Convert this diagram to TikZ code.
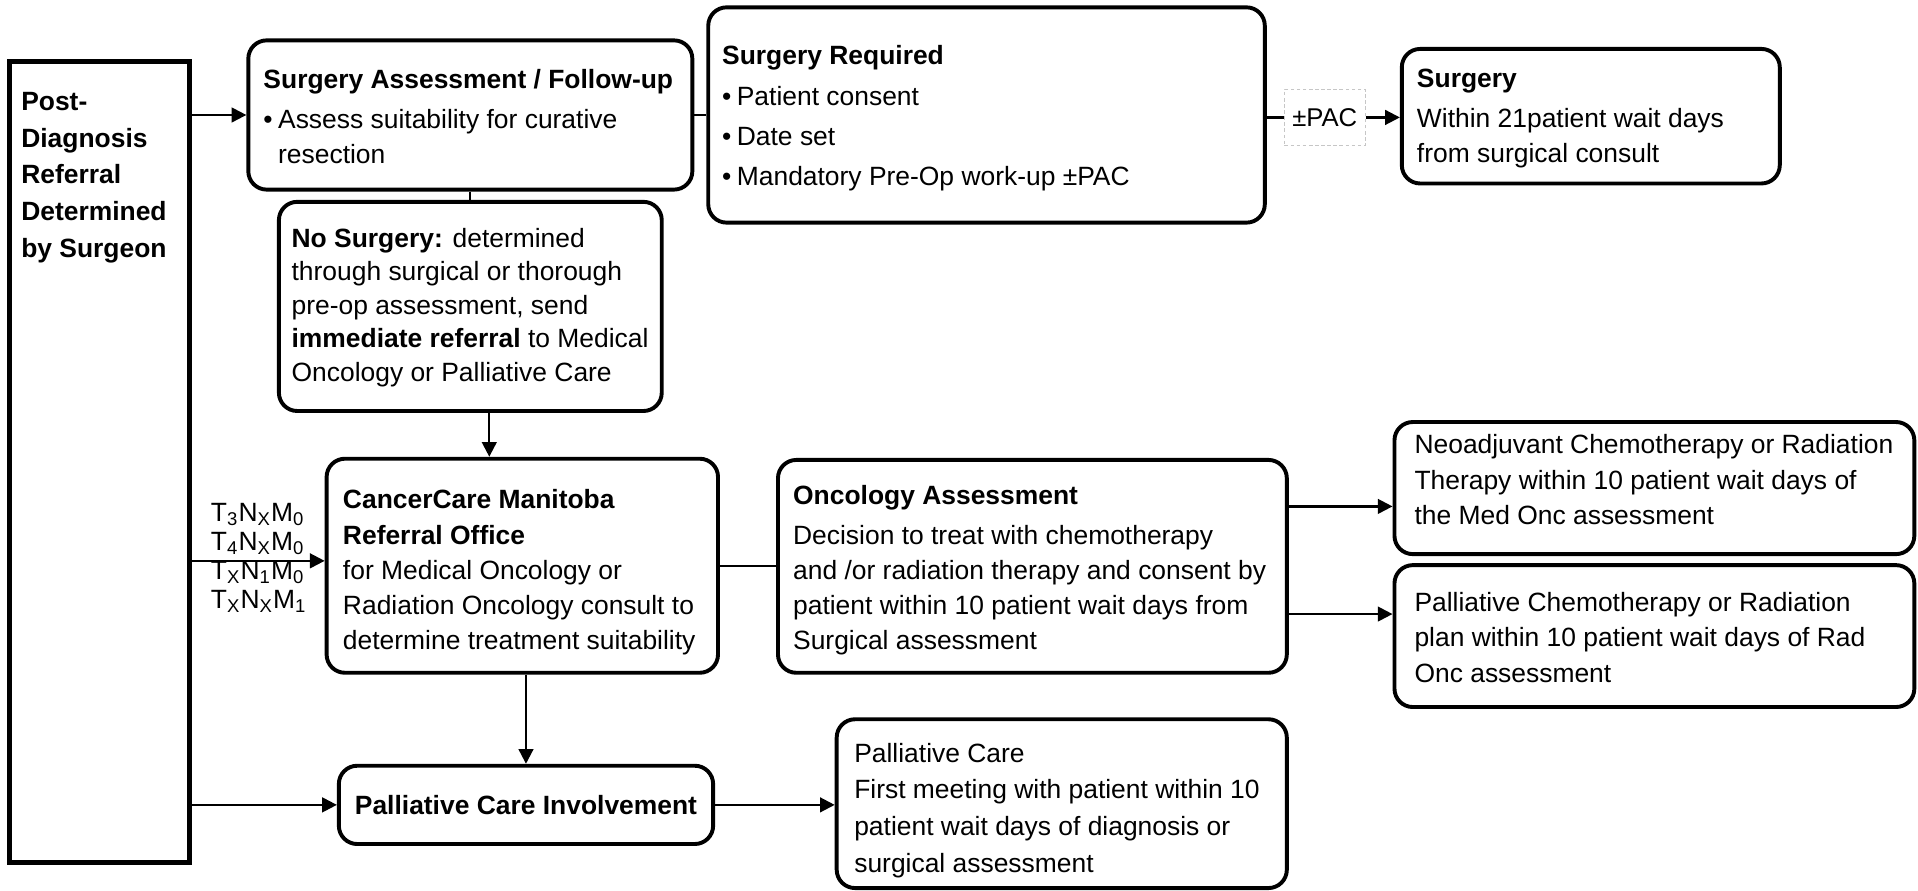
\documentclass[tikz,border=0pt]{standalone}
\usepackage{fontspec}
\setmainfont{Liberation Sans}
\usetikzlibrary{fit,arrows.meta}
\newcommand\bul{\makebox[6pt][l]{\textbullet}}
\newcommand\ind{\hspace*{6pt}}
\begin{document}
\begin{tikzpicture}[x=0.5pt,y=-0.5pt,
  box/.style={draw, line width=1.6pt, rounded corners=7.5pt, inner sep=0pt},
  sqbox/.style={draw, line width=2pt, inner sep=0pt},
  pacbox/.style={draw=gray!45, dashed, dash pattern=on 1.5pt off 1pt, line width=0.4pt, inner sep=0pt},
  txt/.style={anchor=north west, inner sep=0pt, align=left, font=\fontsize{10.8}{14.4}\selectfont},
  arr/.style={line width=0.9pt, -{Triangle[length=6pt,width=6pt]}},
  ln/.style={line width=0.9pt}]
\useasboundingbox (0,0) rectangle (1568,728);
% boxes
\node[sqbox, fit={(8,50) (155,705)}] (L) {};
\node[box, fit={(203,33) (566,155)}] (SA) {};
\node[box, fit={(579,6) (1034,182)}] (SR) {};
\node[pacbox, fit={(1050,73) (1116,119)}] (PAC) {};
\node[box, fit={(1146,40) (1455,150)}] (SU) {};
\node[box, fit={(228,165) (541,336)}] (NS) {};
\node[box, fit={(267,375) (587,550)}] (CC) {};
\node[box, fit={(636,376) (1052,550)}] (OA) {};
\node[box, fit={(1140,345) (1565,453)}] (NEO) {};
\node[box, fit={(1140,462) (1565,578)}] (PCR) {};
\node[box, fit={(277,626) (583,690)}] (PCI) {};
\node[box, fit={(684,588) (1052,726)}] (PC) {};
% texts
\node[txt, font=\fontsize{10.8}{15}\selectfont\bfseries] (Lt) at (17,75) {Post-\\Diagnosis\\Referral\\Determined\\by Surgeon};
\node[txt] (SAt) at (215,56) {\textbf{Surgery Assessment / Follow-up}\\[2pt]\bul Assess suitability for curative\\\ind resection};
\node[txt] (SRt) at (590,37) {\textbf{Surgery Required}\\[2pt]\bul Patient consent\\[2pt]\bul Date set\\[2pt]\bul Mandatory Pre-Op work-up \textpm PAC};
\node[font=\fontsize{10.5}{12}\selectfont, inner sep=0pt] (PACt) at (PAC.center) {\textpm PAC};
\node[txt] (SUt) at (1158,56) {\textbf{Surgery}\\[2pt]Within 21patient wait days\\from surgical consult};
\node[txt, font=\fontsize{10.8}{13.7}\selectfont] (NSt) at (238,186) {\textbf{No Surgery:} determined\\through surgical or thorough\\pre-op assessment, send\\\textbf{immediate referral} to Medical\\Oncology or Palliative Care};
\node[txt] (CCt) at (280,400) {\textbf{CancerCare Manitoba}\\\textbf{Referral Office}\\for Medical Oncology or\\Radiation Oncology consult to\\determine treatment suitability};
\node[txt] (OAt) at (648,396) {\textbf{Oncology Assessment}\\[2pt]Decision to treat with chemotherapy\\and /or radiation therapy and consent by\\patient within 10 patient wait days from\\Surgical assessment};
\node[txt] (NEOt) at (1156,355) {Neoadjuvant Chemotherapy or Radiation\\Therapy within 10 patient wait days of\\the Med Onc assessment};
\node[txt] (PCRt) at (1156,484) {Palliative Chemotherapy or Radiation\\plan within 10 patient wait days of Rad\\Onc assessment};
\node[font=\fontsize{10.8}{14.4}\selectfont\bfseries, inner sep=0pt] (PCIt) at (PCI.center) {Palliative Care Involvement};
\node[txt, font=\fontsize{10.8}{15}\selectfont] (PCt) at (698,607) {Palliative Care\\First meeting with patient within 10\\patient wait days of diagnosis or\\surgical assessment};
\node[txt, font=\fontsize{10.8}{11.8}\selectfont] (TNM) at (172,411) {T\textsubscript{3}N\textsubscript{X}M\textsubscript{0}\\T\textsubscript{4}N\textsubscript{X}M\textsubscript{0}\\T\textsubscript{X}N\textsubscript{1}M\textsubscript{0}\\T\textsubscript{X}N\textsubscript{X}M\textsubscript{1}};
% connectors
\draw[arr] (SA.west -| L.east) -- (SA.west);
\draw[ln] (SA.east) -- (SA.east -| SR.west);
\draw[ln] (PAC.west -| SR.east) -- (PAC.west);
\draw[arr] (PAC.east) -- (PAC.east -| SU.west);
\draw[ln] (SA.south) -- (NS.north);
\draw[arr] ([xshift=7.75pt]NS.south) -- ([xshift=7.75pt]NS.south |- CC.north);
\draw[arr] ([yshift=2pt]CC.west -| L.east) -- ([yshift=2pt]CC.west);
\draw[ln] (CC.east) -- (CC.east -| OA.west);
\draw[arr] ([yshift=24.5pt]OA.east) -- ([yshift=24.5pt]OA.east -| NEO.west);
\draw[arr] ([yshift=-19.5pt]OA.east) -- ([yshift=-19.5pt]OA.east -| PCR.west);
\draw[arr] ([xshift=1.5pt]CC.south) -- ([xshift=1.5pt]CC.south |- PCI.north);
\draw[arr] (PCI.west -| L.east) -- (PCI.west);
\draw[arr] (PCI.east) -- (PCI.east -| PC.west);
\end{tikzpicture}
\end{document}
